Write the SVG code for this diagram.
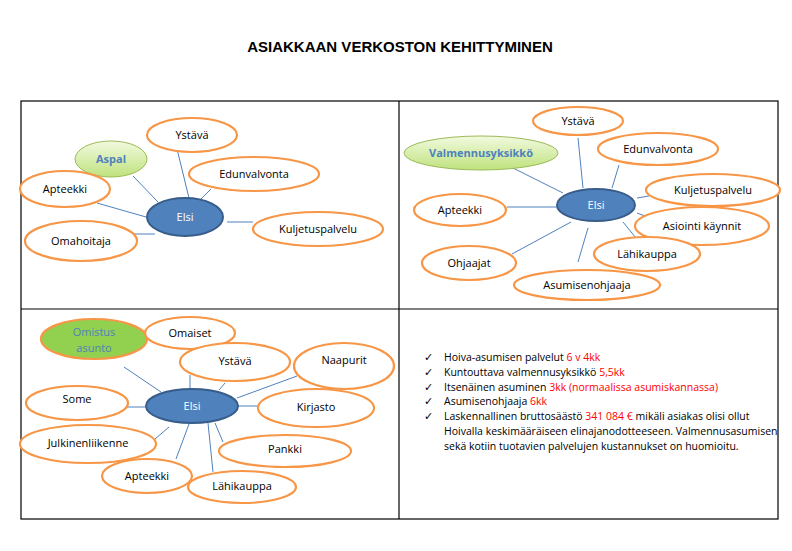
<svg xmlns="http://www.w3.org/2000/svg" width="792" height="551" viewBox="0 0 792 551">
<defs>
<linearGradient id="lg" x1="0" y1="0" x2="0" y2="1"><stop offset="0" stop-color="#f2fadf"/><stop offset="1" stop-color="#bfe27e"/></linearGradient>
<style>
.o{fill:#fff;stroke:#f79646;stroke-width:2.2}
.c{fill:#4f81bd;stroke:#385d8a;stroke-width:2}
.g{fill:url(#lg);stroke:#9bbb59;stroke-width:1}
.t{font-family:"Open Sans","Liberation Sans",sans-serif;font-size:11px;fill:#000;text-anchor:middle}
.w{fill:#fff}
.b{fill:#4f81bd;font-weight:bold}
.l line{stroke:#4f81bd;stroke-width:1}
.r{font-family:"Open Sans","Liberation Sans",sans-serif;font-size:10.5px;fill:#000}
.red{fill:#ff0000}
</style>
</defs>
<rect width="792" height="551" fill="#fff"/>
<text x="400" y="52" text-anchor="middle" font-family="Liberation Sans,sans-serif" font-weight="bold" font-size="15">ASIAKKAAN VERKOSTON KEHITTYMINEN</text>
<g fill="none" stroke="#000" stroke-width="1.2">
<rect x="21" y="101" width="757" height="418"/>
<line x1="399" y1="101" x2="399" y2="519"/>
<line x1="21" y1="309" x2="778" y2="309"/>
</g>
<g class="l" id="connectors">
<line x1="133" y1="176" x2="158" y2="202"/><line x1="177" y1="149" x2="189" y2="198"/><line x1="211" y1="189" x2="201" y2="199"/><line x1="97" y1="203" x2="146" y2="217"/><line x1="133" y1="234" x2="155" y2="234"/><line x1="227" y1="222" x2="253" y2="222"/>
<line x1="507" y1="165" x2="563" y2="193"/><line x1="578" y1="138" x2="583" y2="188"/><line x1="619" y1="165" x2="612" y2="188"/><line x1="637" y1="198" x2="649" y2="196"/><line x1="637" y1="213" x2="645" y2="216"/><line x1="623" y1="222" x2="636" y2="238"/><line x1="588" y1="228" x2="578" y2="262"/><line x1="512" y1="254" x2="571" y2="222"/><line x1="507" y1="207" x2="557" y2="207"/>
<line x1="124" y1="367" x2="161" y2="392"/><line x1="190" y1="375" x2="190" y2="389"/><line x1="219" y1="390" x2="225" y2="383"/><line x1="297" y1="376" x2="237" y2="398"/><line x1="124" y1="407" x2="147" y2="407"/><line x1="238" y1="406" x2="258" y2="406"/><line x1="155" y1="439" x2="169" y2="427"/><line x1="176" y1="459" x2="189" y2="424"/><line x1="213" y1="472" x2="208" y2="423"/><line x1="223" y1="442" x2="215" y2="423"/>
</g>
<g id="tl">
<g id="tl-ystava"><ellipse class="o" cx="192" cy="135" rx="45" ry="17"/><text class="t" x="192" y="139">Ystävä</text></g>
<g id="tl-aspal"><ellipse class="g" cx="111" cy="159" rx="36" ry="18"/><text class="t b" x="111" y="163">Aspal</text></g>
<g id="tl-edun"><ellipse class="o" cx="254" cy="174" rx="65" ry="17"/><text class="t" x="254" y="178">Edunvalvonta</text></g>
<g id="tl-apteekki"><ellipse class="o" cx="65" cy="189" rx="45" ry="18"/><text class="t" x="65" y="193">Apteekki</text></g>
<g id="tl-elsi"><ellipse class="c" cx="185" cy="217" rx="38" ry="19"/><text class="t w" x="185" y="221">Elsi</text></g>
<g id="tl-kulj"><ellipse class="o" cx="318" cy="229" rx="65" ry="17"/><text class="t" x="318" y="233">Kuljetuspalvelu</text></g>
<g id="tl-oma"><ellipse class="o" cx="81" cy="241" rx="56" ry="20"/><text class="t" x="81" y="245">Omahoitaja</text></g>
</g>
<g id="tr">
<g id="tr-ystava"><ellipse class="o" cx="578" cy="121" rx="45" ry="14"/><text class="t" x="578" y="125">Ystävä</text></g>
<g id="tr-valm"><ellipse class="g" cx="481" cy="153" rx="77" ry="17"/><text class="t b" x="481" y="157">Valmennusyksikkö</text></g>
<g id="tr-edun"><ellipse class="o" cx="658" cy="149" rx="60" ry="16"/><text class="t" x="658" y="153">Edunvalvonta</text></g>
<g id="tr-kulj"><ellipse class="o" cx="713" cy="190" rx="67" ry="16"/><text class="t" x="713" y="194">Kuljetuspalvelu</text></g>
<g id="tr-elsi"><ellipse class="c" cx="596" cy="205" rx="39" ry="16"/><text class="t w" x="596" y="209">Elsi</text></g>
<g id="tr-apteekki"><ellipse class="o" cx="460" cy="210" rx="46" ry="16"/><text class="t" x="460" y="214">Apteekki</text></g>
<g id="tr-asiointi"><ellipse class="o" cx="702" cy="226" rx="67" ry="19"/><text class="t" x="702" y="230">Asiointi käynnit</text></g>
<g id="tr-ohjaajat"><ellipse class="o" cx="469" cy="263" rx="47" ry="17"/><text class="t" x="469" y="267">Ohjaajat</text></g>
<g id="tr-lahi"><ellipse class="o" cx="647" cy="254" rx="53" ry="17"/><text class="t" x="647" y="258">Lähikauppa</text></g>
<g id="tr-asum"><ellipse class="o" cx="587" cy="285" rx="73" ry="15"/><text class="t" x="587" y="289">Asumisenohjaaja</text></g>
</g>
<g id="bl">
<g id="bl-omistus"><ellipse cx="94" cy="339" rx="53" ry="20" fill="#92d050" stroke="#f79646" stroke-width="2.2"/><text class="t b" style="font-weight:normal" x="94" y="336">Omistus</text><text class="t b" style="font-weight:normal" x="94" y="352">asunto</text></g>
<g id="bl-omaiset"><ellipse class="o" cx="190" cy="333" rx="45" ry="16"/><text class="t" x="190" y="337">Omaiset</text></g>
<g id="bl-ystava"><ellipse class="o" cx="235" cy="362" rx="55" ry="19"/><text class="t" x="235" y="365">Ystävä</text></g>
<g id="bl-naapurit"><ellipse class="o" cx="344" cy="366" rx="50" ry="23"/><text class="t" x="344" y="364">Naapurit</text></g>
<g id="bl-some"><ellipse class="o" cx="77" cy="403" rx="51" ry="17"/><text class="t" x="77" y="403">Some</text></g>
<g id="bl-elsi"><ellipse class="c" cx="192" cy="406" rx="46" ry="17"/><text class="t w" x="192" y="410">Elsi</text></g>
<g id="bl-kirjasto"><ellipse class="o" cx="316" cy="408" rx="58" ry="19"/><text class="t" x="316" y="411">Kirjasto</text></g>
<g id="bl-julk"><ellipse class="o" cx="88" cy="444" rx="68" ry="19"/><text class="t" x="88" y="447">Julkinenliikenne</text></g>
<g id="bl-pankki"><ellipse class="o" cx="285" cy="451" rx="66" ry="16"/><text class="t" x="285" y="453">Pankki</text></g>
<g id="bl-apteekki"><ellipse class="o" cx="147" cy="476" rx="45" ry="17"/><text class="t" x="147" y="480">Apteekki</text></g>
<g id="bl-lahi"><ellipse class="o" cx="242" cy="487" rx="54" ry="16"/><text class="t" x="242" y="490">Lähikauppa</text></g>
</g>
<g id="br" class="r">
<g font-size="11"><text x="424" y="361">✓</text><text x="424" y="376">✓</text><text x="424" y="391">✓</text><text x="424" y="405">✓</text><text x="424" y="420">✓</text></g>
<text x="444" y="361">Hoiva-asumisen palvelut  <tspan class="red">6 v 4kk</tspan></text>
<text x="444" y="376">Kuntouttava valmennusyksikkö <tspan class="red">5,5kk</tspan></text>
<text x="444" y="391">Itsenäinen asuminen <tspan class="red">3kk (normaalissa asumiskannassa)</tspan></text>
<text x="444" y="405">Asumisenohjaaja <tspan class="red">6kk</tspan></text>
<text x="444" y="420">Laskennallinen bruttosäästö <tspan class="red">341 084  €</tspan>  mikäli asiakas olisi ollut</text>
<text x="444" y="435">Hoivalla keskimääräiseen elinajanodotteeseen. Valmennusasumisen</text>
<text x="444" y="450">sekä kotiin tuotavien palvelujen kustannukset on huomioitu.</text>
</g>
</svg>
